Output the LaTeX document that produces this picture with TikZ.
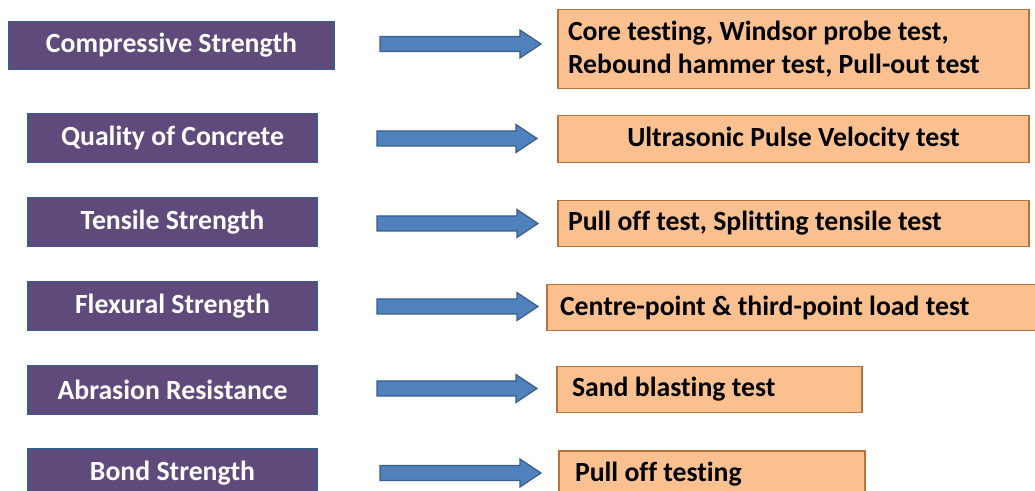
\documentclass[tikz,border=0pt]{standalone}
\usepackage{fontspec}
\setmainfont[Ligatures=NoCommon]{Carlito}
\usetikzlibrary{calc}
\newdimen\pxu \pxu=0.75pt
\definecolor{purp}{HTML}{604A7B}
\definecolor{bluebd}{HTML}{385D8A}
\definecolor{arrfill}{HTML}{4F81BD}
\definecolor{peach}{HTML}{FAC090}
\definecolor{peachbd}{HTML}{B8733A}
\tikzset{
  boxfont/.style={font=\bfseries\fontsize{20.8}{24.75}\selectfont},
  lbox/.style={draw=bluebd, fill=purp, line width=1.1pt, text=white, boxfont,
    inner sep=0pt, minimum width=289\pxu, minimum height=49\pxu},
  rbox/.style={draw=peachbd, fill=peach, line width=1.1pt, text=black, boxfont,
    inner ysep=0pt, align=flush left,
    execute at begin node={\spaceskip=0pt\xspaceskip=0pt\relax}},
  fat/.style={draw=bluebd, fill=arrfill, line width=0.9pt, line join=miter}
}
\newcommand\fatarrow[2]{%
  \draw[fat] ($(#1)+(0,-7.5)$) -- ($(#2)+(-21,-7.5)$) -- ($(#2)+(-21,-14)$)
    -- (#2) -- ($(#2)+(-21,14)$) -- ($(#2)+(-21,7.5)$) -- ($(#1)+(0,7.5)$) -- cycle;}
\begin{document}
\begin{tikzpicture}[x=0.75pt,y=-0.75pt]
\useasboundingbox (0,0) rectangle (1035,491);
% left boxes
\node[lbox, minimum width=325\pxu, minimum height=48\pxu] (l1) at (171.5,45.5) {Compressive Strength};
\node[lbox] (l2) at (172.5,138) {Quality of Concrete};
\node[lbox] (l3) at (172.5,222) {Tensile Strength};
\node[lbox] (l4) at (172.5,306) {Flexural Strength};
\node[lbox] (l5) at (172.5,390) {Abrasion Resistance};
\node[lbox] (l6) at (172.5,473.5) {Bond Strength};
% right boxes
\node[rbox, inner xsep=10\pxu, text width=451\pxu, minimum height=79\pxu] (r1) at (793.5,49)
  {Core testing, Windsor probe test,\\Rebound hammer test, Pull-out test};
\node[rbox, inner xsep=10\pxu, text width=451\pxu, minimum height=47\pxu, align=flush center] (r2) at (793.5,139)
  {Ultrasonic Pulse Velocity test};
\node[rbox, inner xsep=10\pxu, text width=451\pxu, minimum height=46\pxu] (r3) at (793.5,223.5)
  {Pull off test, Splitting tensile test};
\node[rbox, inner xsep=13\pxu, text width=467\pxu, minimum height=46\pxu] (r4) at (793.5,307.5)
  {Centre-point \& third-point load test};
\node[rbox, inner xsep=15\pxu, text width=275\pxu, minimum height=46\pxu] (r5) at (709.5,389.5)
  {Sand blasting test};
\node[rbox, inner xsep=16\pxu, text width=274\pxu, minimum height=46\pxu] (r6) at (712,474)
  {Pull off testing};
% arrows
\coordinate (s1) at (380,44);    \coordinate (t1) at (541,44);
\coordinate (s2) at (377,138.5); \coordinate (t2) at (537,138.5);
\coordinate (s3) at (377,223.5); \coordinate (t3) at (538,223.5);
\coordinate (s4) at (377,306.5); \coordinate (t4) at (538,306.5);
\coordinate (s5) at (377,388.5); \coordinate (t5) at (537,388.5);
\coordinate (s6) at (380,473);   \coordinate (t6) at (541,473);
\fatarrow{s1}{t1}
\fatarrow{s2}{t2}
\fatarrow{s3}{t3}
\fatarrow{s4}{t4}
\fatarrow{s5}{t5}
\fatarrow{s6}{t6}
\end{tikzpicture}
\end{document}
